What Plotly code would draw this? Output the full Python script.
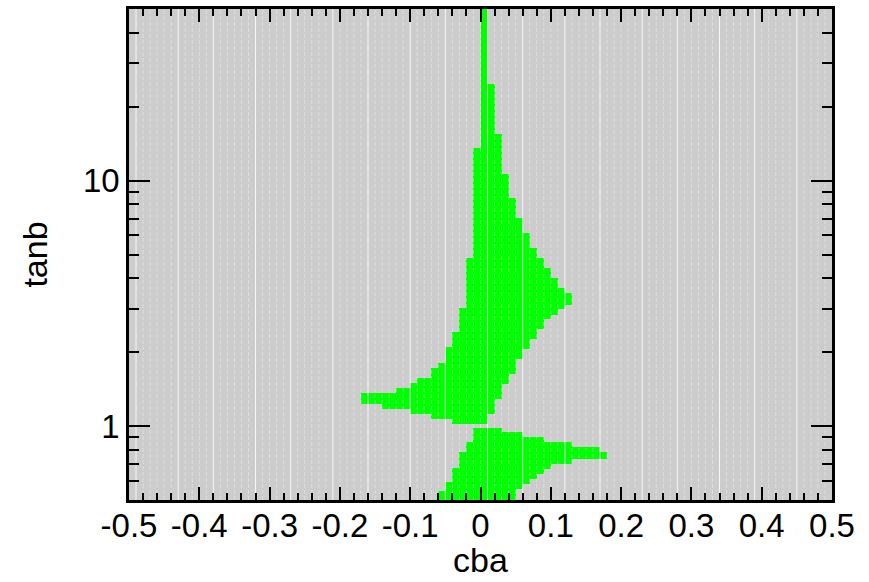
import plotly.graph_objects as go

# Allowed cells in the (cba, tanb) plane: cells are 0.01 wide in cba,
# each column described by its centre and the tanb extent it covers.
cell_width = 0.01

upper_cba = [round(-0.165 + 0.01 * i, 3) for i in range(30)]
upper_lo = [1.226, 1.226, 1.226, 1.170, 1.170, 1.170, 1.170, 1.116, 1.116, 1.116,
            1.065, 1.065, 1.065, 1.016, 1.016, 1.016, 1.016, 1.016, 1.116, 1.285,
            1.480, 1.626, 1.87, 2.06, 2.26, 2.48, 2.73, 2.83, 3.00, 3.12]
upper_hi = [1.369, 1.369, 1.369, 1.369, 1.369, 1.435, 1.435, 1.504, 1.576, 1.576,
            1.731, 1.815, 2.10, 2.41, 3.02, 4.83, 13.56, 50.0, 24.8, 15.5,
            10.65, 8.50, 7.03, 6.10, 5.31, 4.83, 4.40, 4.00, 3.64, 3.47]

lower_cba = [round(-0.055 + 0.01 * i, 3) for i in range(24)]
lower_lo = [0.5, 0.5, 0.5, 0.5, 0.5, 0.5, 0.5, 0.5, 0.5, 0.5, 0.5, 0.555,
            0.582, 0.610, 0.639, 0.670, 0.702, 0.702, 0.702, 0.736, 0.736, 0.736,
            0.736, 0.736]
lower_hi = [0.543, 0.591, 0.676, 0.783, 0.860, 0.985, 0.985, 0.985, 0.985, 0.945,
            0.945, 0.945, 0.902, 0.902, 0.902, 0.860, 0.860, 0.860, 0.860, 0.821,
            0.821, 0.821, 0.821, 0.783]

x_ticks = [-0.5, -0.4, -0.3, -0.2, -0.1, 0.0, 0.1, 0.2, 0.3, 0.4, 0.5]
x_tick_labels = ["-0.5", "-0.4", "-0.3", "-0.2", "-0.1", "0", "0.1", "0.2", "0.3", "0.4", "0.5"]
y_ticks = [1, 10]
y_tick_labels = ["1", "10"]
y_minor_ticks = [0.6, 0.7, 0.8, 0.9, 2, 3, 4, 5, 6, 7, 8, 9, 20, 30, 40]

x_title = "cba"
y_title = "tanb"

x_range = [-0.5, 0.5]
y_range = [0.5, 50.0]

GREEN = "#00ff00"
GRAY = "#cccccc"
FONT = "Liberation Sans, Arial, Helvetica, sans-serif"

fig = go.Figure()

for cba, lo, hi in ((upper_cba, upper_lo, upper_hi), (lower_cba, lower_lo, lower_hi)):
    fig.add_trace(go.Bar(
        x=cba,
        base=lo,
        y=[h - l for l, h in zip(lo, hi)],
        width=cell_width,
        marker=dict(color=GREEN, line=dict(width=0)),
        showlegend=False,
        hoverinfo="skip",
    ))

# Cell borders of the grid: faint at every edge, brighter every few cells.
n_edges = int(round((x_range[1] - x_range[0]) / cell_width))
bright_idx = set()
k = 0
while True:
    idx = 1 + int(k * 5.5 + 0.6)
    if idx >= n_edges:
        break
    bright_idx.add(idx)
    k += 1

faint_x, faint_y, bright_x, bright_y = [], [], [], []
for i in range(1, n_edges):
    xe = x_range[0] + i * cell_width
    if i in bright_idx:
        bright_x += [xe, xe, None]
        bright_y += [y_range[0], y_range[1], None]
    else:
        faint_x += [xe, xe, None]
        faint_y += [y_range[0], y_range[1], None]

fig.add_trace(go.Scatter(
    x=faint_x, y=faint_y, mode="lines",
    line=dict(color="rgba(255,255,255,0.35)", width=1, dash="4px,2px"),
    showlegend=False, hoverinfo="skip",
))
fig.add_trace(go.Scatter(
    x=bright_x, y=bright_y, mode="lines",
    line=dict(color="rgba(255,255,255,0.85)", width=1),
    showlegend=False, hoverinfo="skip",
))

axis_common = dict(
    showline=True, linecolor="black", linewidth=2.5, mirror="allticks",
    ticks="inside", tickcolor="black", tickwidth=2,
    showgrid=False, zeroline=False, automargin=False,
)

title_font = dict(family=FONT, size=34, color="black")

fig.update_layout(
    width=869, height=582,
    margin=dict(l=129, r=37, t=9, b=82),
    paper_bgcolor="white",
    plot_bgcolor=GRAY,
    barmode="overlay",
    bargap=0,
    xaxis=dict(
        range=x_range,
        tickmode="array", tickvals=x_ticks, ticktext=x_tick_labels,
        ticklen=13,
        ticklabelstandoff=-5,
        tickfont=dict(family=FONT, size=33, color="black"),
        minor=dict(dtick=0.02, tick0=0, ticklen=7, tickwidth=2, tickcolor="black", ticks="inside"),
        **axis_common,
    ),
    yaxis=dict(
        type="log",
        range=[-0.30103, 1.69897],
        tickmode="array", tickvals=y_ticks, ticktext=y_tick_labels,
        ticklen=21,
        tickfont=dict(family=FONT, size=33, color="black"),
        minor=dict(tickmode="array", tickvals=y_minor_ticks, ticklen=10, tickwidth=2,
                   tickcolor="black", ticks="inside"),
        title=dict(text=y_title, font=title_font, standoff=26),
        **axis_common,
    ),
    annotations=[dict(
        text=x_title, font=title_font, showarrow=False,
        xref="paper", yref="paper", x=0.5, y=-0.162,
        xanchor="center", yanchor="bottom", borderpad=0,
    )],
)

fig.write_html("out.html")
